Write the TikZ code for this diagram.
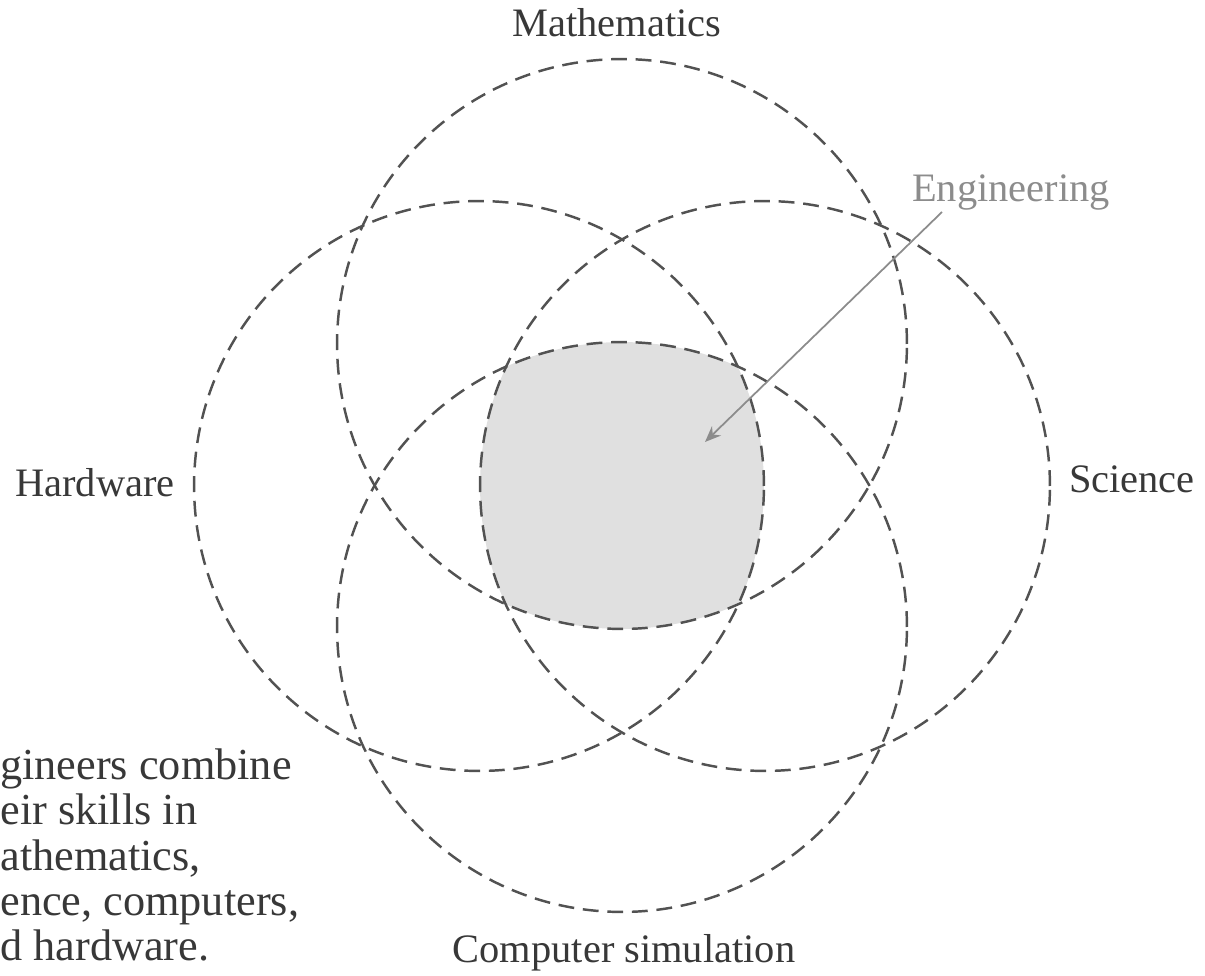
\documentclass[tikz,border=0pt]{standalone}
\usepackage{fontspec}
\setmainfont{Liberation Serif}
\usetikzlibrary{arrows.meta}

\begin{document}
\begin{tikzpicture}[x=0.02cm, y=-0.02cm,
    ring/.style={dash pattern=on 9pt off 5pt, line width=1.4pt, black!68},
    lbl/.style={anchor=base, inner sep=0pt, text=black!78, font=\fontsize{23}{27}\selectfont}]
    \useasboundingbox (0,0) rectangle (1205,976);
    \def\rad{5.7cm}

    % 圆心
    \coordinate (M) at (622,344);
    \coordinate (H) at (479,486);
    \coordinate (S) at (765,486);
    \coordinate (C) at (622,627);

    % 公共部分 (阴影)
    \begin{scope}
        \clip (M) circle (\rad);
        \clip (H) circle (\rad);
        \clip (S) circle (\rad);
        \fill[black!12] (C) circle (\rad);
    \end{scope}

    % 四个圆
    \draw[ring] (M) circle (\rad);
    \draw[ring] (H) circle (\rad);
    \draw[ring] (S) circle (\rad);
    \draw[ring] (C) circle (\rad);

    % 标签
    \node[lbl] (math) at (617,37) {Mathematics};
    \node[lbl] (hard) at (95,497) {Hardware};
    \node[lbl] (sci) at (1132,493) {Science};
    \node[lbl] (comp) at (624,962) {Computer simulation};
    \node[lbl, text=black!45] (eng) at (1011,202) {Engineering};

    % 箭头
    \coordinate (engtail) at (942,212);
    \coordinate (engtip) at (705,442);
    \draw[black!45, line width=1pt, -{Stealth[length=0.32cm, width=0.26cm]}] (engtail) -- (engtip);

    % 左下角说明 (被裁去一部分)
    \foreach \txt [count=\i from 0] in {gineers combine, eir skills in, {athematics,}, {ence, computers,}, d hardware.}
        \node[anchor=base west, inner sep=0pt, text=black!78, font=\fontsize{25.2}{29}\selectfont]
            (cap\i) at (0,780+45*\i) {\txt};
\end{tikzpicture}
\end{document}
